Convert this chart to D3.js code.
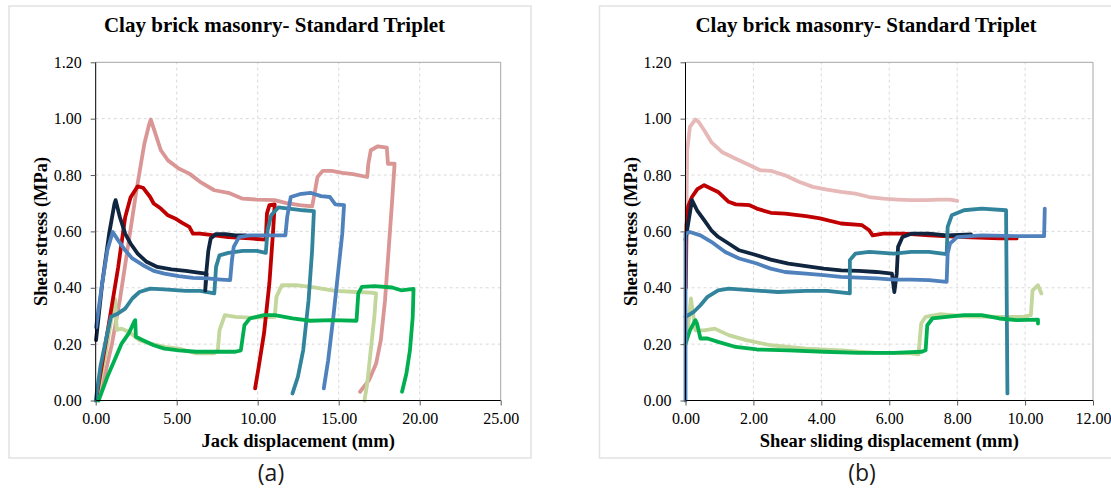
<!DOCTYPE html>
<html>
<head>
<meta charset="utf-8">
<script src="https://cdn.jsdelivr.net/npm/d3@7"></script>
<style>
  body { margin: 0; background: #fff; }
  svg { display: block; }
  .grid line { stroke: #d9d9d9; stroke-dasharray: 3,3; }
  .series { fill: none; stroke-width: 3.8; stroke-linejoin: round; stroke-linecap: round; }
</style>
</head>
<body>
<svg width="1111" height="489"></svg>
<script>
// axis ticks
var jackTicks = [0, 5, 10, 15, 20, 25];
var slideTicks = [0, 2, 4, 6, 8, 10, 12];
var stressTicks = [0, 0.2, 0.4, 0.6, 0.8, 1.0, 1.2];

// (a) shear stress vs jack displacement  [mm, MPa]
var jackPink = [[0.1,0],[0.6,0.1],[1.0,0.2],[1.5,0.36],[2.0,0.55],[2.5,0.74],[3.0,0.91],[3.3,0.98],[3.4,0.997],[3.69,0.946],[4.02,0.888],[4.46,0.852],[5.12,0.823],[5.78,0.805],[6.44,0.776],[7.32,0.746],[8.19,0.737],[9.07,0.716],[9.95,0.713],[11.05,0.711],[11.71,0.701],[12.59,0.693],[13.36,0.689],[13.51,0.734],[13.69,0.793],[14.02,0.815],[14.57,0.815],[15.22,0.808],[15.88,0.803],[16.76,0.793],[16.83,0.84],[16.98,0.888],[17.42,0.902],[17.97,0.897],[18.04,0.84],[18.45,0.84],[18.3,0.71],[18.08,0.533],[17.86,0.356],[17.6,0.214],[17.31,0.131],[16.87,0.072],[16.32,0.031]];
var jackRed = [[0.07,0.02],[0.72,0.24],[1.38,0.47],[1.82,0.65],[2.15,0.72],[2.59,0.76],[2.92,0.755],[3.36,0.722],[3.58,0.699],[4.02,0.681],[4.46,0.657],[4.9,0.646],[5.34,0.63],[5.78,0.616],[6.0,0.592],[6.44,0.592],[7.32,0.586],[8.19,0.58],[9.51,0.575],[10.5,0.571],[10.57,0.663],[10.72,0.693],[11.05,0.696],[10.94,0.592],[10.72,0.415],[10.39,0.238],[10.06,0.119],[9.84,0.043]];
var jackNavy = [[0.02,0.214],[0.4,0.415],[0.83,0.592],[1.16,0.699],[1.23,0.711],[1.49,0.651],[1.82,0.592],[2.15,0.557],[2.59,0.521],[3.14,0.492],[3.8,0.474],[4.68,0.465],[5.56,0.46],[6.44,0.453],[6.85,0.45],[6.76,0.39],[6.82,0.45],[6.95,0.53],[7.1,0.575],[7.4,0.59],[8.0,0.59],[8.63,0.586],[9.29,0.586]];
var jackBlue = [[0.02,0.26],[0.4,0.415],[0.72,0.533],[1.05,0.598],[1.38,0.569],[1.82,0.533],[2.26,0.504],[2.92,0.48],[3.58,0.46],[4.24,0.45],[5.12,0.441],[6.0,0.435],[6.88,0.433],[7.75,0.429],[8.3,0.427],[8.41,0.498],[8.52,0.545],[8.85,0.58],[9.51,0.586],[10.83,0.586],[11.71,0.586],[11.82,0.651],[12.04,0.722],[12.59,0.732],[13.25,0.737],[13.91,0.725],[14.46,0.722],[14.79,0.696],[15.33,0.693],[15.22,0.592],[15.0,0.474],[14.67,0.297],[14.35,0.143],[14.08,0.043]];
var jackTeal = [[0,0],[0.29,0.12],[0.72,0.24],[0.94,0.297],[1.38,0.309],[1.82,0.326],[2.26,0.362],[2.7,0.385],[3.36,0.397],[4.24,0.394],[5.56,0.389],[6.44,0.389],[7.32,0.38],[7.43,0.474],[7.64,0.515],[8.19,0.524],[9.07,0.531],[9.95,0.531],[10.5,0.524],[10.61,0.604],[10.83,0.657],[11.27,0.685],[11.93,0.681],[12.81,0.675],[13.47,0.672],[13.36,0.533],[13.14,0.356],[12.81,0.179],[12.48,0.084],[12.15,0.025]];
var jackLightGreen = [[0.05,0],[0.6,0.16],[1.0,0.3],[1.2,0.36],[1.3,0.25],[1.6,0.255],[2.04,0.244],[2.7,0.214],[3.36,0.202],[4.24,0.19],[5.12,0.184],[6.22,0.167],[7.32,0.167],[7.54,0.178],[7.64,0.249],[7.97,0.303],[8.63,0.297],[9.51,0.294],[11.05,0.297],[11.16,0.368],[11.49,0.409],[12.37,0.409],[13.47,0.401],[14.79,0.389],[16.1,0.385],[16.98,0.383],[17.31,0.38],[17.2,0.297],[16.98,0.179],[16.76,0.06],[16.59,0]];
var jackGreen = [[0.18,0],[0.72,0.084],[1.16,0.143],[1.6,0.202],[2.04,0.238],[2.37,0.279],[2.44,0.285],[2.48,0.226],[2.92,0.214],[3.58,0.196],[4.24,0.184],[5.12,0.178],[6.22,0.173],[7.32,0.173],[8.63,0.173],[8.96,0.178],[9.18,0.267],[9.51,0.291],[10.39,0.303],[11.05,0.303],[12.15,0.291],[13.25,0.283],[14.57,0.285],[16.1,0.283],[16.21,0.38],[16.43,0.403],[17.2,0.406],[18.3,0.401],[18.85,0.391],[19.62,0.396],[19.57,0.297],[19.4,0.179],[19.18,0.096],[18.91,0.031]];

// (b) shear stress vs shear sliding displacement  [mm, MPa]
var slidePink = [[0.02,0.6],[0.05,0.888],[0.13,0.971],[0.29,0.997],[0.39,0.988],[0.55,0.959],[0.76,0.917],[1.07,0.882],[1.48,0.858],[1.89,0.835],[2.2,0.817],[2.51,0.815],[2.93,0.799],[3.34,0.776],[3.75,0.758],[4.17,0.748],[4.58,0.74],[5.0,0.734],[5.41,0.722],[5.82,0.716],[6.24,0.713],[6.65,0.711],[7.07,0.711],[7.48,0.713],[7.79,0.713],[8.0,0.708]];
var slideRed = [[0.01,0.4],[0.03,0.62],[0.08,0.69],[0.19,0.722],[0.35,0.75],[0.55,0.764],[0.96,0.74],[1.27,0.705],[1.48,0.696],[1.89,0.693],[2.1,0.681],[2.51,0.666],[2.93,0.663],[3.55,0.654],[3.96,0.646],[4.58,0.628],[5.2,0.622],[5.41,0.604],[5.51,0.586],[5.82,0.592],[6.44,0.592],[7.17,0.586],[8.2,0.58],[9.24,0.575],[9.75,0.575]];
var slideNavy = [[0,0.57],[0.19,0.711],[0.34,0.675],[0.55,0.64],[0.76,0.604],[0.96,0.581],[1.27,0.557],[1.58,0.533],[2.0,0.519],[2.51,0.5],[3.03,0.486],[3.55,0.477],[4.07,0.468],[4.58,0.462],[5.1,0.46],[5.62,0.456],[6.08,0.45],[6.15,0.385],[6.22,0.45],[6.26,0.545],[6.39,0.58],[6.65,0.592],[7.17,0.592],[7.69,0.586],[8.41,0.589]];
var slideBlue = [[0,0],[0,0.592],[0.13,0.598],[0.44,0.586],[0.76,0.563],[1.17,0.527],[1.58,0.504],[2.1,0.486],[2.51,0.468],[2.93,0.456],[3.55,0.45],[4.07,0.445],[4.58,0.439],[5.1,0.436],[5.62,0.433],[6.13,0.429],[6.65,0.429],[7.17,0.427],[7.69,0.421],[7.72,0.521],[7.79,0.557],[8.0,0.58],[8.72,0.586],[9.75,0.583],[10.56,0.583],[10.58,0.681]];
var slideTeal = [[0,0.297],[0.24,0.314],[0.44,0.338],[0.65,0.368],[0.96,0.391],[1.27,0.397],[2.0,0.391],[2.72,0.385],[3.55,0.389],[4.17,0.389],[4.84,0.38],[4.84,0.498],[5.0,0.521],[5.41,0.527],[6.13,0.521],[6.65,0.527],[7.17,0.527],[7.69,0.519],[7.72,0.616],[7.84,0.657],[8.2,0.675],[8.72,0.681],[9.44,0.675],[9.48,0.025]];
var slideLightGreen = [[0.02,0.2],[0.16,0.362],[0.29,0.249],[0.55,0.249],[0.86,0.255],[1.27,0.232],[1.79,0.214],[2.51,0.196],[3.55,0.184],[4.58,0.178],[5.62,0.169],[6.65,0.167],[6.86,0.164],[6.94,0.273],[7.07,0.297],[7.48,0.306],[8.2,0.299],[9.24,0.297],[9.96,0.297],[10.17,0.303],[10.22,0.391],[10.38,0.409],[10.48,0.38]];
var slideGreen = [[0,0.202],[0.13,0.249],[0.29,0.285],[0.34,0.273],[0.44,0.22],[0.65,0.22],[0.96,0.208],[1.48,0.19],[2.1,0.181],[3.03,0.178],[4.07,0.173],[5.1,0.169],[6.13,0.169],[6.96,0.173],[7.07,0.178],[7.12,0.267],[7.27,0.291],[7.69,0.297],[8.2,0.303],[8.72,0.303],[9.24,0.291],[9.75,0.285],[10.38,0.287],[10.38,0.273]];

var svg = d3.select("svg");
var serif = "'Liberation Serif', 'Times New Roman', serif";

function drawPanel(p) {
  var g = svg.append("g");

  // panel frame
  g.append("rect")
      .attr("x", p.box[0]).attr("y", p.box[1])
      .attr("width", p.box[2]).attr("height", p.box[3])
      .attr("fill", "none").attr("stroke", "#e2e2e2").attr("stroke-width", 1.5);

  var x = d3.scaleLinear().domain(p.xDomain).range([p.left, p.right]);
  var y = d3.scaleLinear().domain([0, 1.2]).range([400.5, 62.3]);

  // dashed grid
  g.append("g").attr("class", "grid")
      .selectAll("line").data(p.xTicks.slice(1, -1)).enter().append("line")
      .attr("x1", function (d) { return x(d); }).attr("x2", function (d) { return x(d); })
      .attr("y1", y(0)).attr("y2", y(1.2));
  g.append("g").attr("class", "grid")
      .selectAll("line").data(stressTicks.slice(1, -1)).enter().append("line")
      .attr("x1", x.range()[0]).attr("x2", x.range()[1])
      .attr("y1", function (d) { return y(d); }).attr("y2", function (d) { return y(d); });

  // top / right border of plot area
  g.append("path")
      .attr("d", "M" + x.range()[0] + "," + y(1.2) + "H" + x.range()[1] + "V" + y(0))
      .attr("fill", "none").attr("stroke", "#a6a6a6");

  var line = d3.line()
      .x(function (d) { return x(d[0]); })
      .y(function (d) { return y(d[1]); });

  g.selectAll(".series").data(p.series).enter().append("path")
      .attr("class", "series")
      .attr("stroke", function (d) { return d.color; })
      .attr("d", function (d) { return line(d.values); });

  var xAxis = g.append("g")
      .attr("transform", "translate(0," + y(0) + ")")
      .call(d3.axisBottom(x).tickValues(p.xTicks).tickFormat(d3.format(".2f")).tickSize(5).tickPadding(7));
  var yAxis = g.append("g")
      .attr("transform", "translate(" + x.range()[0] + ",0)")
      .call(d3.axisLeft(y).tickValues(stressTicks).tickFormat(d3.format(".2f")).tickSize(5).tickPadding(9));
  [xAxis, yAxis].forEach(function (a) {
    a.attr("font-family", null).attr("font-size", null);
    a.select(".domain").attr("stroke", "#000");
    a.selectAll(".tick line").attr("stroke", "#595959");
    a.selectAll(".tick text")
        .style("font-family", serif).style("font-size", "16px").attr("fill", "#000");
  });
  xAxis.select(".domain").attr("d", "M" + x.range()[0] + ",0H" + x.range()[1]);
  yAxis.select(".domain").attr("d", "M0," + y(0) + "V" + y(1.2));

  g.append("text")
      .attr("x", p.titleX).attr("y", 32)
      .attr("text-anchor", "middle")
      .style("font-family", serif).style("font-weight", "bold").style("font-size", "21px")
      .text("Clay brick masonry- Standard Triplet");

  g.append("text")
      .attr("x", (x.range()[0] + x.range()[1]) / 2).attr("y", 447)
      .attr("text-anchor", "middle")
      .style("font-family", serif).style("font-weight", "bold").style("font-size", "18.5px")
      .text(p.xTitle);

  g.append("text")
      .attr("transform", "translate(" + (x.range()[0] - 49) + "," + ((y(0) + y(1.2)) / 2) + ") rotate(-90)")
      .attr("text-anchor", "middle")
      .style("font-family", serif).style("font-weight", "bold").style("font-size", "18.5px")
      .text("Shear stress (MPa)");

  g.append("text")
      .attr("x", p.labelX).attr("y", 481)
      .attr("text-anchor", "middle")
      .style("font-family", "'Open Sans', sans-serif").style("font-size", "23px").style("fill", "#1a1a1a")
      .text(p.label);
}

drawPanel({
  box: [9, 6, 522, 452], left: 95.7, right: 500.7, xDomain: [0, 25], xTicks: jackTicks,
  titleX: 274.5, labelX: 271, label: "(a)", xTitle: "Jack displacement (mm)",
  series: [
    { color: "#d99694", values: jackPink },
    { color: "#c3d69b", values: jackLightGreen },
    { color: "#c00000", values: jackRed },
    { color: "#31849b", values: jackTeal },
    { color: "#10253f", values: jackNavy },
    { color: "#4f81bd", values: jackBlue },
    { color: "#00b050", values: jackGreen }
  ]
});

drawPanel({
  box: [599.5, 6, 560, 452], left: 685.5, right: 1093, xDomain: [0, 12], xTicks: slideTicks,
  titleX: 866, labelX: 862, label: "(b)", xTitle: "Shear sliding displacement (mm)",
  series: [
    { color: "#e6b9b8", values: slidePink },
    { color: "#c3d69b", values: slideLightGreen },
    { color: "#c00000", values: slideRed },
    { color: "#10253f", values: slideNavy },
    { color: "#31849b", values: slideTeal },
    { color: "#00b050", values: slideGreen },
    { color: "#4f81bd", values: slideBlue }
  ]
});
</script>
</body>
</html>
